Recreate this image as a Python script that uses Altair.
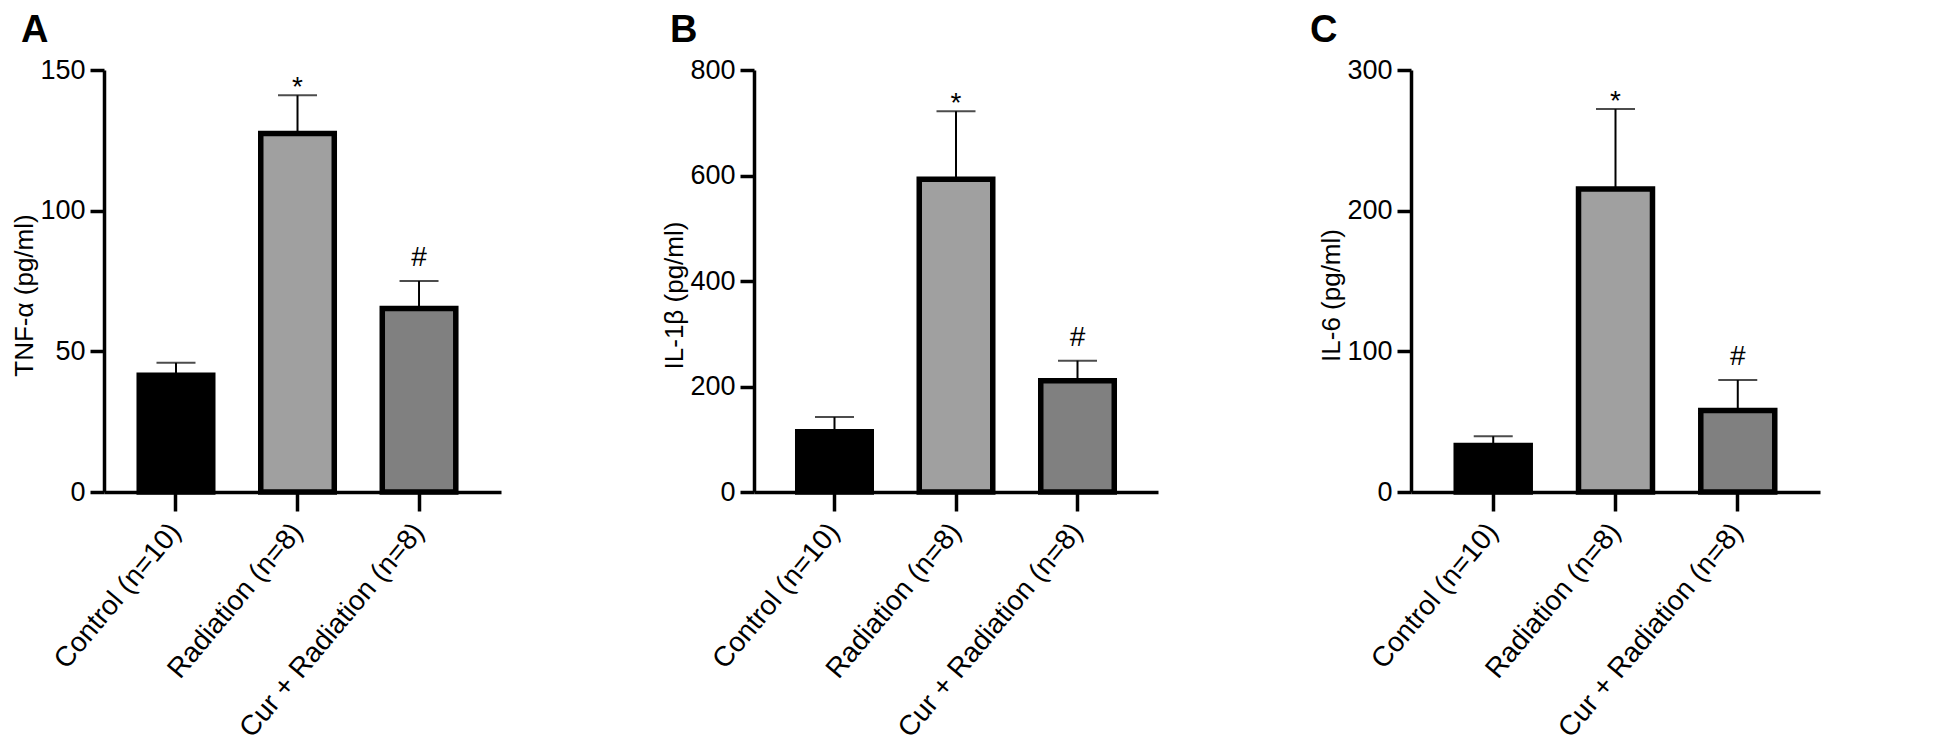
import altair as alt
import pandas as pd

groups = ["Control (n=10)", "Radiation (n=8)", "Cur + Radiation (n=8)"]
bar_colors = ["#000000", "#a0a0a0", "#808080"]
annotations = ["", "*", "#"]

tnf_mean = [41.5, 127.4, 65.2]
tnf_sem = [4.4, 13.6, 9.8]
il1b_mean = [114, 593, 211]
il1b_sem = [28, 129, 38]
il6_mean = [33.0, 215.4, 57.9]
il6_sem = [6.6, 56.8, 21.7]

y_titles = ["TNF-α (pg/ml)", "IL-1β (pg/ml)", "IL-6 (pg/ml)"]
y_max = [150, 800, 300]
y_ticks = [[0, 50, 100, 150], [0, 200, 400, 600, 800], [0, 100, 200, 300]]
panel_letters = ["A", "B", "C"]

SANS = "Liberation Sans, Arial, sans-serif"


def make_panel(means, sems, ytitle, ymax, yticks, letter, letter_x, width, pad_outer, align):
    df = pd.DataFrame({
        "group": groups,
        "mean": means,
        "upper": [m + s for m, s in zip(means, sems)],
        "annot": annotations,
    })
    xscale = alt.Scale(domain=groups, paddingInner=0.395, paddingOuter=pad_outer, align=align)
    xaxis = alt.Axis(title=None, labelAngle=-50, labelAlign="right", labelBaseline="middle",
                     labelFont=SANS, labelFontSize=28, labelColor="black", labelPadding=16,
                     labelLimit=500, tickSize=19, tickWidth=3.5, tickColor="black",
                     domainWidth=3.5, domainColor="black", grid=False)
    yscale = alt.Scale(domain=[0, ymax], nice=False)
    yaxis = alt.Axis(title=ytitle, values=yticks, tickSize=14, tickWidth=3.5, tickColor="black",
                     domainWidth=3.5, domainColor="black", labelFont=SANS, labelFontSize=27,
                     labelColor="black", labelPadding=5, titleFont=SANS, titleFontSize=26,
                     titleFontWeight="normal", titleColor="black", titlePadding=2,
                     titleY=225, grid=False)

    def xe():
        return alt.X("group:N", sort=groups, scale=xscale, axis=xaxis)

    def ye(field):
        return alt.Y(field, type="quantitative", scale=yscale, axis=yaxis)

    base = alt.Chart(df)
    bars = base.mark_bar(stroke="black", strokeWidth=5.5).encode(
        x=xe(), y=ye("mean"),
        color=alt.Color("group:N", scale=alt.Scale(domain=groups, range=bar_colors), legend=None),
    )
    err = base.mark_rule(color="black", strokeWidth=2).encode(x=xe(), y=ye("mean"), y2="upper:Q")
    cap = base.mark_tick(color="black", size=39, thickness=2).encode(x=xe(), y=ye("upper"))
    star = base.transform_filter(alt.datum.annot == "*").mark_text(
        font=SANS, fontSize=28, baseline="alphabetic", dy=1, color="black"
    ).encode(x=xe(), y=ye("upper"), text="annot:N")
    hashm = base.transform_filter(alt.datum.annot == "#").mark_text(
        font=SANS, fontSize=28, baseline="alphabetic", dy=-15, color="black"
    ).encode(x=xe(), y=ye("upper"), text="annot:N")
    lab = alt.Chart(pd.DataFrame({"letter": [letter]})).mark_text(
        font=SANS, fontSize=38, fontWeight="bold", align="left", baseline="alphabetic", color="black"
    ).encode(text="letter:N", x=alt.value(letter_x), y=alt.value(-28))
    return alt.layer(bars, err, cap, star, hashm, lab).properties(width=width, height=422)


pA = make_panel(tnf_mean, tnf_sem, y_titles[0], y_max[0], y_ticks[0], panel_letters[0], -83, 397, 0.331, 0.438)
pB = make_panel(il1b_mean, il1b_sem, y_titles[1], y_max[1], y_ticks[1], panel_letters[1], -84, 404, 0.36, 0.5)
pC = make_panel(il6_mean, il6_sem, y_titles[2], y_max[2], y_ticks[2], panel_letters[2], -101, 409, 0.37, 0.5)

chart = alt.hconcat(pA, alt.hconcat(pB, pC, spacing=152), spacing=160).properties(
    padding={"left": 3, "top": 4, "right": 5, "bottom": 0}
).configure_view(stroke=None)

chart.save("out.html", embed_options={"renderer": "svg", "actions": False})
